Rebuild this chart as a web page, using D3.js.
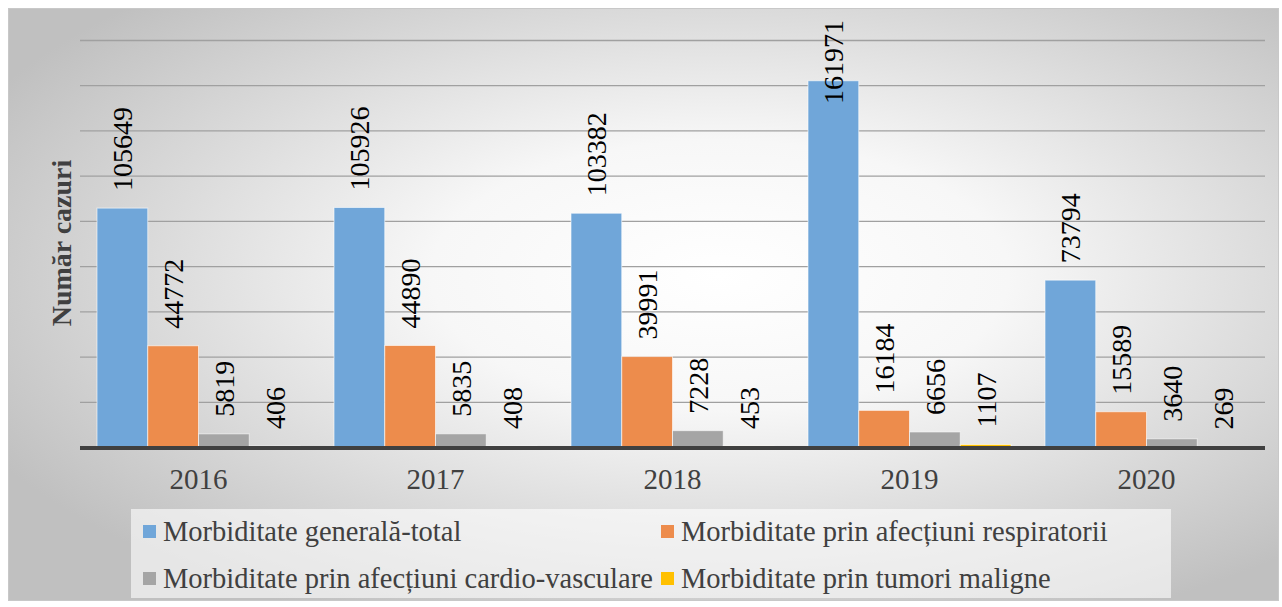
<!DOCTYPE html>
<html>
<head>
<meta charset="utf-8">
<script src="https://cdn.jsdelivr.net/npm/d3@7"></script>
<style>
  body { margin: 0; background: #fff; }
  svg { display: block; }
</style>
</head>
<body>
<svg id="chart" width="1282" height="607"></svg>
<script>
// chart values
var years = ["2016", "2017", "2018", "2019", "2020"];
var seriesNames = [
    "Morbiditate generală-total",
    "Morbiditate prin afecțiuni respiratorii",
    "Morbiditate prin afecțiuni cardio-vasculare",
    "Morbiditate prin tumori maligne"
];
var generalTotal = [105649, 105926, 103382, 161971, 73794];
var respiratorii = [44772, 44890, 39991, 16184, 15589];
var cardioVasc = [5819, 5835, 7228, 6656, 3640];
var tumori = [406, 408, 453, 1107, 269];
var yTicks = [0, 20000, 40000, 60000, 80000, 100000, 120000, 140000, 160000, 180000];
var colors = ["#70a6d9", "#ed8c4c", "#a5a5a5", "#ffc000"];

var allSeries = [generalTotal, respiratorii, cardioVasc, tumori];

var svg = d3.select("#chart");

// background gradient
var defs = svg.append("defs");
var grad = defs.append("radialGradient")
    .attr("id", "bg")
    .attr("cx", "0.56").attr("cy", "0.45").attr("r", "0.65");
grad.append("stop").attr("offset", "0").attr("stop-color", "#ffffff");
grad.append("stop").attr("offset", "0.35").attr("stop-color", "#f7f7f7");
grad.append("stop").attr("offset", "1").attr("stop-color", "#c0c0c0");

svg.append("rect")
    .attr("x", 8.5).attr("y", 8.5)
    .attr("width", 1270).attr("height", 592)
    .attr("fill", "url(#bg)")
    .attr("stroke", "#c8c8c8");

var plotLeft = 80, plotRight = 1265, plotTop = 40, plotBottom = 447;

var x0 = d3.scaleBand().domain(years).range([plotLeft, plotRight]).padding(0);
var x1 = d3.scaleBand().domain(d3.range(4)).range([0, x0.bandwidth()])
    .paddingInner(0).paddingOuter(0.335);
var y = d3.scaleLinear().domain([0, 180000]).range([plotBottom, plotTop]);

// gridlines
svg.append("g")
    .selectAll("line")
    .data(yTicks.slice(1))
    .enter()
    .append("line")
    .attr("x1", plotLeft).attr("x2", plotRight)
    .attr("y1", function(d) { return y(d) + 0.5; })
    .attr("y2", function(d) { return y(d) + 0.5; })
    .attr("stroke", "#a0a0a0")
    .attr("stroke-width", 1.3);

// bars
var groups = svg.append("g")
    .selectAll("g")
    .data(years)
    .enter()
    .append("g")
    .attr("transform", function(d) { return "translate(" + x0(d) + ",0)"; });

groups.selectAll("rect")
    .data(function(d, i) { return allSeries.map(function(s, k) { return {k: k, v: s[i]}; }); })
    .enter()
    .append("rect")
    .attr("x", function(d) { return x1(d.k); })
    .attr("width", x1.bandwidth())
    .attr("y", function(d) { return y(d.v); })
    .attr("height", function(d) { return plotBottom - y(d.v); })
    .attr("fill", function(d) { return colors[d.k]; })
    .attr("stroke", "rgba(255,255,255,0.6)")
    .attr("stroke-width", 1);

// data labels (rotated), kept inside the chart at the top
groups.selectAll("text")
    .data(function(d, i) { return allSeries.map(function(s, k) { return {k: k, v: s[i]}; }); })
    .enter()
    .append("text")
    .attr("font-family", "Liberation Serif, serif")
    .attr("font-size", 28)
    .attr("fill", "#000")
    .text(function(d) { return d.v; })
    .each(function(d) {
        var len = this.getComputedTextLength();
        var cx = x1(d.k) + x1.bandwidth() / 2 + 10;
        var ty = Math.max(y(d.v) - 17, 20 + len);
        d3.select(this).attr("transform", "translate(" + cx + "," + ty + ") rotate(-90)");
    });

// axis line
svg.append("line")
    .attr("x1", plotLeft).attr("x2", plotRight)
    .attr("y1", plotBottom + 1).attr("y2", plotBottom + 1)
    .attr("stroke", "#404040")
    .attr("stroke-width", 4);

// category labels
svg.append("g")
    .selectAll("text")
    .data(years)
    .enter()
    .append("text")
    .attr("x", function(d) { return x0(d) + x0.bandwidth() / 2; })
    .attr("y", 489)
    .attr("text-anchor", "middle")
    .attr("font-family", "Liberation Serif, serif")
    .attr("font-size", 29)
    .attr("fill", "#404040")
    .text(function(d) { return d; });

// y axis title
svg.append("text")
    .attr("transform", "translate(71,243) rotate(-90)")
    .attr("text-anchor", "middle")
    .attr("font-family", "Liberation Serif, serif")
    .attr("font-weight", "bold")
    .attr("font-size", 28)
    .attr("fill", "#404040")
    .text("Număr cazuri");

// legend
svg.append("rect")
    .attr("x", 131).attr("y", 509)
    .attr("width", 1040).attr("height", 89)
    .attr("fill", "#ffffff")
    .attr("fill-opacity", 0.6);

var legendPos = [[143, 532], [661, 532], [143, 579], [661, 579]];
var legend = svg.append("g")
    .selectAll("g")
    .data(seriesNames)
    .enter()
    .append("g")
    .attr("transform", function(d, i) { return "translate(" + legendPos[i][0] + "," + legendPos[i][1] + ")"; });

legend.append("rect")
    .attr("x", 0).attr("y", -7)
    .attr("width", 13).attr("height", 13)
    .attr("fill", function(d, i) { return colors[i]; });

legend.append("text")
    .attr("x", 20).attr("y", 9)
    .attr("font-family", "Liberation Serif, serif")
    .attr("font-size", 28.5)
    .attr("fill", "#404040")
    .text(function(d) { return d; });
</script>
</body>
</html>
